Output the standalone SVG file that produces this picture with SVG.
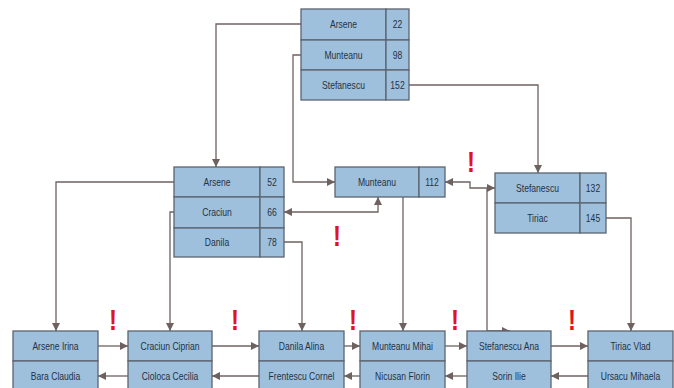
<svg xmlns="http://www.w3.org/2000/svg" width="674" height="388" viewBox="0 0 674 388">
<defs>
<marker id="arr" markerUnits="userSpaceOnUse" markerWidth="9" markerHeight="8" refX="8" refY="4" orient="auto-start-reverse" viewBox="0 0 9 8">
<path d="M0,0 L8,4 L0,8 z" fill="#6e6260"/>
</marker>
<style>
.cell{fill:#9fc0dd;stroke:#5c6470;stroke-width:1.3}
.t{font-family:"Liberation Sans",Arial,sans-serif;font-size:11px;fill:#243243;text-anchor:middle;dominant-baseline:central}
.c{fill:none;stroke:#6e6260;stroke-width:1.3}
.x{font-family:"Liberation Sans",Arial,sans-serif;font-size:30px;font-weight:bold;fill:#e0141e;text-anchor:middle}
</style>
</defs>
<rect width="674" height="388" fill="#ffffff"/>

<g id="connectors">
<path class="c" d="M301,24 H216 V167" marker-end="url(#arr)"/>
<path class="c" d="M301,55 H293 V182 H335" marker-end="url(#arr)"/>
<path class="c" d="M409,85 H538 V173" marker-end="url(#arr)"/>
<path class="c" d="M174,182 H56 V331" marker-end="url(#arr)"/>
<path class="c" d="M174,212 H170 V331" marker-end="url(#arr)"/>
<path class="c" d="M284,242 H302 V331" marker-end="url(#arr)"/>
<path class="c" d="M284,212 H378 V197" marker-start="url(#arr)" marker-end="url(#arr)"/>
<path class="c" d="M403,197 V331" marker-end="url(#arr)"/>
<path class="c" d="M445,182 H470 V188 H495" marker-start="url(#arr)" marker-end="url(#arr)"/>
<path class="c" d="M487,188 V331 H510" marker-end="url(#arr)"/>
<path class="c" d="M606,218 H631 V331" marker-end="url(#arr)"/>
<path class="c" d="M98,346 H128" marker-end="url(#arr)"/>
<path class="c" d="M128,376 H98" marker-end="url(#arr)"/>
<path class="c" d="M212,346 H259" marker-end="url(#arr)"/>
<path class="c" d="M259,376 H212" marker-end="url(#arr)"/>
<path class="c" d="M344,346 H360" marker-end="url(#arr)"/>
<path class="c" d="M360,376 H344" marker-end="url(#arr)"/>
<path class="c" d="M445,346 H467" marker-end="url(#arr)"/>
<path class="c" d="M467,376 H445" marker-end="url(#arr)"/>
<path class="c" d="M551,346 H588" marker-end="url(#arr)"/>
<path class="c" d="M588,376 H551" marker-end="url(#arr)"/>
</g>

<g id="root">
<rect class="cell" x="301" y="9" width="85" height="31"/>
<rect class="cell" x="386" y="9" width="23" height="31"/>
<rect class="cell" x="301" y="40" width="85" height="30"/>
<rect class="cell" x="386" y="40" width="23" height="30"/>
<rect class="cell" x="301" y="70" width="85" height="30"/>
<rect class="cell" x="386" y="70" width="23" height="30"/>
<text class="t" transform="translate(343.5,24.5) scale(0.78,1)">Arsene</text>
<text class="t" transform="translate(397.5,24.5) scale(0.78,1)">22</text>
<text class="t" transform="translate(343.5,55) scale(0.78,1)">Munteanu</text>
<text class="t" transform="translate(397.5,55) scale(0.78,1)">98</text>
<text class="t" transform="translate(343.5,85) scale(0.78,1)">Stefanescu</text>
<text class="t" transform="translate(397.5,85) scale(0.78,1)">152</text>
</g>

<g id="mid-left">
<rect class="cell" x="174" y="167" width="86" height="30"/>
<rect class="cell" x="260" y="167" width="24" height="30"/>
<rect class="cell" x="174" y="197" width="86" height="31"/>
<rect class="cell" x="260" y="197" width="24" height="31"/>
<rect class="cell" x="174" y="228" width="86" height="29"/>
<rect class="cell" x="260" y="228" width="24" height="29"/>
<text class="t" transform="translate(217,182) scale(0.78,1)">Arsene</text>
<text class="t" transform="translate(272,182) scale(0.78,1)">52</text>
<text class="t" transform="translate(217,212.5) scale(0.78,1)">Craciun</text>
<text class="t" transform="translate(272,212.5) scale(0.78,1)">66</text>
<text class="t" transform="translate(217,242.5) scale(0.78,1)">Danila</text>
<text class="t" transform="translate(272,242.5) scale(0.78,1)">78</text>
</g>

<g id="mid-center">
<rect class="cell" x="335" y="167" width="84" height="30"/>
<rect class="cell" x="419" y="167" width="26" height="30"/>
<text class="t" transform="translate(377,182) scale(0.78,1)">Munteanu</text>
<text class="t" transform="translate(432,182) scale(0.78,1)">112</text>
</g>

<g id="mid-right">
<rect class="cell" x="495" y="173" width="85" height="30"/>
<rect class="cell" x="580" y="173" width="26" height="30"/>
<rect class="cell" x="495" y="203" width="85" height="30"/>
<rect class="cell" x="580" y="203" width="26" height="30"/>
<text class="t" transform="translate(537.5,188) scale(0.78,1)">Stefanescu</text>
<text class="t" transform="translate(593,188) scale(0.78,1)">132</text>
<text class="t" transform="translate(537.5,218) scale(0.78,1)">Tiriac</text>
<text class="t" transform="translate(593,218) scale(0.78,1)">145</text>
</g>

<g id="leaf1">
<rect class="cell" x="13" y="331" width="85" height="30"/>
<rect class="cell" x="13" y="361" width="85" height="30"/>
<text class="t" transform="translate(55.5,346) scale(0.78,1)">Arsene Irina</text>
<text class="t" transform="translate(55.5,376) scale(0.78,1)">Bara Claudia</text>
</g>
<g id="leaf2">
<rect class="cell" x="128" y="331" width="84" height="30"/>
<rect class="cell" x="128" y="361" width="84" height="30"/>
<text class="t" transform="translate(170,346) scale(0.78,1)">Craciun Ciprian</text>
<text class="t" transform="translate(170,376) scale(0.78,1)">Cioloca Cecilia</text>
</g>
<g id="leaf3">
<rect class="cell" x="259" y="331" width="85" height="30"/>
<rect class="cell" x="259" y="361" width="85" height="30"/>
<text class="t" transform="translate(301.5,346) scale(0.78,1)">Danila Alina</text>
<text class="t" transform="translate(301.5,376) scale(0.78,1)">Frentescu Cornel</text>
</g>
<g id="leaf4">
<rect class="cell" x="360" y="331" width="85" height="30"/>
<rect class="cell" x="360" y="361" width="85" height="30"/>
<text class="t" transform="translate(402.5,346) scale(0.78,1)">Munteanu Mihai</text>
<text class="t" transform="translate(402.5,376) scale(0.78,1)">Nicusan Florin</text>
</g>
<g id="leaf5">
<rect class="cell" x="467" y="331" width="84" height="30"/>
<rect class="cell" x="467" y="361" width="84" height="30"/>
<text class="t" transform="translate(509,346) scale(0.78,1)">Stefanescu Ana</text>
<text class="t" transform="translate(509,376) scale(0.78,1)">Sorin Ilie</text>
</g>
<g id="leaf6">
<rect class="cell" x="588" y="331" width="85" height="30"/>
<rect class="cell" x="588" y="361" width="85" height="30"/>
<text class="t" transform="translate(630.5,346) scale(0.78,1)">Tiriac Vlad</text>
<text class="t" transform="translate(630.5,376) scale(0.78,1)">Ursacu Mihaela</text>
</g>

<g id="marks">
<text class="x" transform="translate(113,330) scale(0.8,1)">!</text>
<text class="x" transform="translate(235,330) scale(0.8,1)">!</text>
<text class="x" transform="translate(353,330) scale(0.8,1)">!</text>
<text class="x" transform="translate(455,330) scale(0.8,1)">!</text>
<text class="x" transform="translate(572,330) scale(0.8,1)">!</text>
<text class="x" transform="translate(337,246) scale(0.8,1)">!</text>
<text class="x" transform="translate(471,172) scale(0.8,1)">!</text>
</g>
</svg>
